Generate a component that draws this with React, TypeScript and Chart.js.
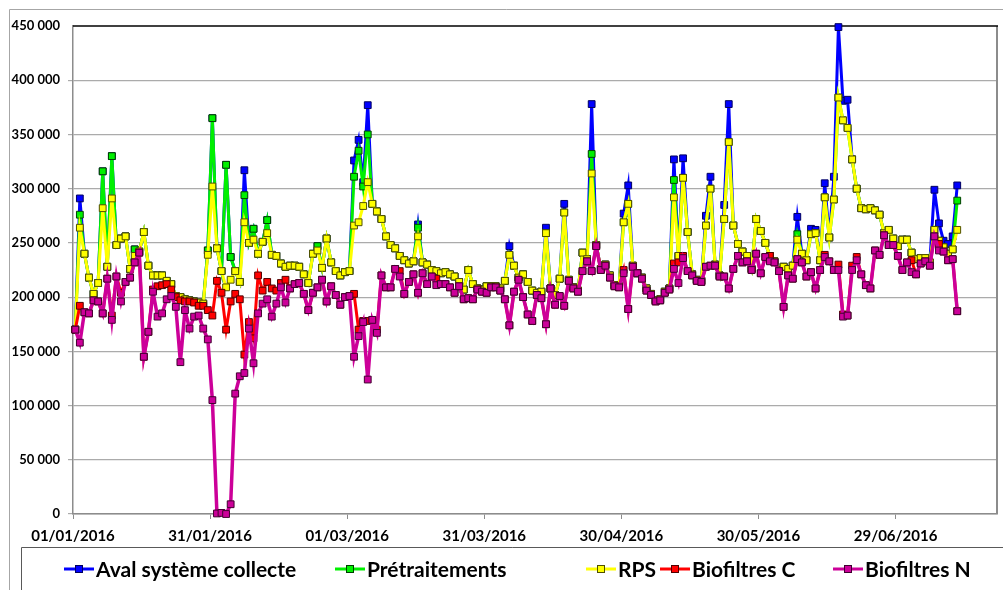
import React, { useEffect, useRef } from "react";
import { Chart, registerables } from "chart.js";

Chart.register(...registerables);

// ---- data (values in thousands of units, one value per day from 01/01/2016) ----
const START_DATE_UTC = Date.UTC(2016, 0, 1);
const UNIT = 1000;
const X_TICK_DAYS = [0, 30, 60, 90, 120, 150, 180];
const X_MAX_DAYS = 202.2;
const Y_MAX = 450000;
const Y_STEP = 50000;

const SERIES_LABELS = [
  "Aval système collecte",
  "Prétraitements",
  "RPS",
  "Biofiltres C",
  "Biofiltres N",
];

const avalSystemeCollecte = [
  170, 291, 240, 218, 203, 213, 316, 228, 330, 248,
  254, 256, 226, 244, 242, 260, 229, 220, 220, 220,
  215, 212, 201, 200, 198, 197, 196, 195, 194, 243,
  365, 245, 224, 322, 237, 224, 214, 317, 250, 263,
  240, 251, 271, 239, 238, 231, 228, 229, 229, 228,
  221, 213, 240, 247, 227, 254, 232, 224, 220, 223,
  224, 326, 345, 306, 377, 286, 279, 272, 256, 248,
  245, 238, 234, 231, 233, 267, 232, 230, 225, 224,
  222, 223, 221, 219, 214, 207, 225, 212, 208, 207,
  210, 210, 210, 208, 215, 247, 229, 218, 221, 214,
  206, 204, 205, 264, 208, 202, 217, 286, 216, 209,
  206, 241, 235, 378, 248, 226, 230, 220, 211, 210,
  277, 303, 229, 222, 218, 208, 203, 197, 198, 205,
  208, 327, 238, 328, 260, 221, 216, 215, 275, 311,
  230, 220, 285, 378, 266, 249, 242, 238, 226, 272,
  261, 250, 238, 233, 225, 228, 226, 229, 274, 240,
  234, 263, 262, 234, 305, 255, 311, 449, 381, 382,
  327, 300, 282, 281, 282, 280, 276, 259, 262, 254,
  247, 253, 253, 241, 235, 236, 236, 232, 299, 268,
  252, 249, 256, 303,
];

const pretraitements = [
  170, 276, 240, 218, 203, 213, 316, 228, 330, 248,
  254, 256, 226, 244, 242, 260, 229, 220, 220, 220,
  215, 212, 201, 200, 198, 197, 196, 195, 194, 243,
  365, 245, 224, 322, 237, 224, 214, 294, 250, 263,
  240, 251, 271, 239, 238, 231, 228, 229, 229, 228,
  221, 213, 240, 247, 227, 254, 232, 224, 220, 223,
  224, 311, 335, 302, 350, 286, 279, 272, 256, 248,
  245, 238, 234, 231, 233, 264, 232, 230, 225, 224,
  222, 223, 221, 219, 214, 207, 225, 212, 208, 207,
  210, 210, 210, 208, 215, 239, 229, 218, 221, 214,
  206, 204, 205, 259, 208, 202, 217, 278, 216, 209,
  206, 241, 235, 332, 248, 226, 230, 220, 211, 210,
  269, 286, 229, 222, 218, 208, 203, 197, 198, 205,
  208, 308, 238, 310, 260, 221, 216, 215, 266, 300,
  230, 220, 272, 343, 266, 249, 242, 238, 226, 272,
  261, 250, 238, 233, 225, 228, 226, 229, 258, 240,
  234, 258, 259, 234, 292, 255, 290, 384, 363, 356,
  327, 300, 282, 281, 282, 280, 276, 259, 262, 254,
  247, 253, 253, 241, 235, 236, 236, 232, 262, 252,
  246, 240, 244, 289,
];

const rps = [
  170, 264, 240, 218, 203, 213, 282, 228, 291, 248,
  254, 256, 226, 238, 242, 260, 229, 220, 220, 220,
  215, 212, 201, 200, 198, 197, 196, 195, 194, 239,
  302, 245, 224, 209, 216, 224, 214, 269, 250, 253,
  240, 251, 259, 239, 238, 231, 228, 229, 229, 228,
  221, 213, 240, 243, 227, 254, 232, 224, 220, 223,
  224, 266, 269, 284, 306, 286, 279, 272, 256, 248,
  245, 238, 234, 231, 233, 256, 232, 230, 225, 224,
  222, 223, 221, 219, 214, 207, 225, 212, 208, 207,
  210, 210, 210, 208, 215, 239, 229, 218, 221, 214,
  206, 204, 205, 259, 208, 202, 217, 278, 216, 209,
  206, 241, 235, 314, 248, 226, 230, 220, 211, 210,
  269, 286, 229, 222, 218, 208, 203, 197, 198, 205,
  208, 292, 238, 310, 260, 221, 216, 215, 266, 300,
  230, 220, 272, 343, 266, 249, 242, 238, 226, 272,
  261, 250, 238, 233, 225, 228, 226, 229, 253, 240,
  234, 258, 259, 234, 292, 255, 290, 384, 363, 356,
  327, 300, 282, 281, 282, 280, 276, 259, 262, 254,
  247, 253, 253, 241, 235, 236, 236, 232, 262, 252,
  246, 240, 244, 262,
];

const biofiltresC = [
  170, 192, 186, 185, 197, 196, 185, 217, 183, 219,
  204, 214, 218, 232, 241, 145, 168, 207, 210, 211,
  212, 207, 200, 197, 196, 196, 195, 192, 192, 188,
  183, 215, 204, 170, 196, 203, 198, 147, 177, 162,
  220, 206, 214, 208, 206, 213, 216, 208, 212, 213,
  203, 188, 204, 209, 216, 196, 210, 202, 193, 200,
  201, 203, 170, 178, 178, 179, 170, 220, 209, 209,
  226, 224, 203, 214, 221, 204, 222, 212, 219, 217,
  212, 212, 209, 204, 210, 198, 199, 198, 207, 205,
  204, 209, 209, 206, 198, 174, 205, 216, 200, 184,
  178, 202, 199, 175, 208, 193, 201, 192, 215, 208,
  205, 224, 233, 224, 247, 225, 229, 218, 210, 209,
  225, 189, 228, 222, 217, 206, 202, 196, 197, 204,
  207, 231, 232, 238, 224, 220, 215, 214, 228, 229,
  229, 219, 219, 208, 226, 238, 232, 233, 225, 240,
  222, 237, 238, 232, 224, 191, 220, 217, 235, 232,
  219, 223, 208, 225, 239, 233, 225, 230, 184, 183,
  229, 237, 221, 211, 208, 243, 239, 257, 248, 248,
  238, 225, 232, 234, 221, 231, 233, 229, 256, 249,
  242, 234, 235, 187,
];

const biofiltresN = [
  170, 158, 186, 185, 197, 196, 185, 217, 179, 219,
  196, 214, 218, 232, 241, 145, 168, 205, 182, 185,
  198, 201, 191, 140, 188, 171, 182, 183, 171, 161,
  105, 0.5, 1, 0, 9, 111, 127, 130, 171, 139,
  185, 194, 198, 182, 194, 209, 195, 208, 212, 213,
  203, 188, 204, 209, 216, 196, 210, 202, 193, 200,
  201, 145, 164, 177, 124, 179, 167, 220, 209, 209,
  226, 219, 203, 214, 221, 204, 222, 212, 219, 211,
  212, 212, 209, 204, 210, 198, 199, 198, 207, 205,
  204, 209, 209, 206, 198, 174, 205, 216, 200, 184,
  178, 202, 199, 175, 208, 193, 201, 192, 215, 208,
  205, 224, 233, 224, 247, 225, 229, 218, 210, 209,
  222, 189, 228, 222, 217, 206, 202, 196, 197, 204,
  207, 226, 213, 236, 224, 220, 215, 214, 228, 229,
  229, 219, 219, 208, 226, 238, 232, 233, 225, 240,
  222, 237, 233, 232, 224, 191, 220, 217, 235, 232,
  219, 223, 208, 225, 237, 233, 225, 225, 182, 183,
  225, 234, 221, 211, 208, 243, 239, 257, 248, 248,
  238, 225, 232, 223, 221, 231, 233, 229, 256, 243,
  242, 234, 235, 187,
];

const SERIES_VALUES = [avalSystemeCollecte, pretraitements, rps, biofiltresC, biofiltresN];

// ---- styles ----
const LINE_COLORS = ["#0000FF", "#00F000", "#FFFF00", "#FF0000", "#CC0099"];
const POINT_BORDERS = ["#000060", "#004000", "#505000", "#500000", "#400030"];
const LINE_WIDTHS = [3, 3, 3, 3, 3.5];
const LEGEND_X = [64, 335, 586, 660, 833];
const LEGEND_Y = 569;
const FONT = "Lato, 'Open Sans', sans-serif";

function fmtDate(day: number): string {
  const d = new Date(START_DATE_UTC + Math.round(day) * 86400000);
  const dd = String(d.getUTCDate()).padStart(2, "0");
  const mm = String(d.getUTCMonth() + 1).padStart(2, "0");
  return `${dd}/${mm}/${d.getUTCFullYear()}`;
}

function fmtNum(v: number): string {
  return String(Math.round(v)).replace(/\B(?=(\d{3})+(?!\d))/g, " ");
}

const framePlugin = {
  id: "frameAndLegend",
  beforeDraw(chart: any) {
    const { ctx, width, height } = chart;
    ctx.save();
    ctx.fillStyle = "#FFFFFF";
    ctx.fillRect(0, 0, width, height);
    // outer chart frame
    ctx.strokeStyle = "#A6A6A6";
    ctx.lineWidth = 1;
    ctx.beginPath();
    ctx.moveTo(9.5, height + 5);
    ctx.lineTo(9.5, 9.5);
    ctx.lineTo(width + 5, 9.5);
    ctx.stroke();
    // legend frame
    ctx.strokeStyle = "#595959";
    ctx.beginPath();
    ctx.moveTo(21.5, height + 5);
    ctx.lineTo(21.5, 547.5);
    ctx.lineTo(width + 5, 547.5);
    ctx.stroke();
    ctx.restore();
  },
  beforeDatasetsDraw(chart: any) {
    const { ctx, chartArea } = chart;
    ctx.save();
    ctx.strokeStyle = "#8C8C8C";
    ctx.lineWidth = 2;
    ctx.beginPath();
    ctx.moveTo(chartArea.right, chartArea.top);
    ctx.lineTo(chartArea.right, chartArea.bottom);
    ctx.stroke();
    ctx.strokeStyle = "#000000";
    ctx.lineWidth = 1.5;
    ctx.beginPath();
    ctx.moveTo(chartArea.left, chartArea.top);
    ctx.lineTo(chartArea.right + 1, chartArea.top);
    ctx.stroke();
    ctx.restore();
  },
  afterDraw(chart: any) {
    const { ctx } = chart;
    ctx.save();
    chart.data.datasets.forEach((ds: any, i: number) => {
      const x0 = LEGEND_X[i];
      ctx.strokeStyle = ds.borderColor;
      ctx.lineWidth = 3;
      ctx.beginPath();
      ctx.moveTo(x0, LEGEND_Y);
      ctx.lineTo(x0 + 30, LEGEND_Y);
      ctx.stroke();
      ctx.fillStyle = ds.pointBackgroundColor;
      ctx.strokeStyle = ds.pointBorderColor;
      ctx.lineWidth = 1;
      ctx.fillRect(x0 + 11.5, LEGEND_Y - 3.5, 7, 7);
      ctx.strokeRect(x0 + 11.5, LEGEND_Y - 3.5, 7, 7);
      ctx.fillStyle = "#000000";
      ctx.font = `bold 21px ${FONT}`;
      ctx.textBaseline = "middle";
      ctx.textAlign = "left";
      ctx.fillText(ds.label, x0 + 32, LEGEND_Y + 1);
    });
    ctx.restore();
  },
};

export default function App() {
  const canvasRef = useRef<HTMLCanvasElement | null>(null);

  useEffect(() => {
    if (!canvasRef.current) return;
    const datasets = SERIES_VALUES.map((values, i) => ({
      label: SERIES_LABELS[i],
      data: values.map((v, d) => ({ x: d + 0.5, y: v * UNIT })),
      borderColor: LINE_COLORS[i],
      backgroundColor: LINE_COLORS[i],
      pointBackgroundColor: LINE_COLORS[i],
      pointBorderColor: POINT_BORDERS[i],
      pointBorderWidth: 1,
      pointStyle: "rect",
      pointRadius: 4.8,
      borderWidth: LINE_WIDTHS[i],
      tension: 0,
      clip: false,
      order: SERIES_VALUES.length - i,
    }));

    const chart = new Chart(canvasRef.current, {
      type: "line",
      data: { datasets },
      options: {
        animation: false,
        responsive: false,
        maintainAspectRatio: false,
        layout: { padding: { top: 26, right: 6, left: 0, bottom: 0 } },
        plugins: {
          legend: { display: false },
          tooltip: { enabled: false },
          title: { display: false },
        },
        scales: {
          x: {
            type: "linear",
            min: 0,
            max: X_MAX_DAYS,
            afterBuildTicks: (scale: any) => {
              scale.ticks = X_TICK_DAYS.map((v) => ({ value: v }));
            },
            afterFit: (scale: any) => {
              scale.height = 76;
            },
            ticks: {
              callback: (v: any) => fmtDate(Number(v)),
              color: "#000000",
              font: { family: FONT, weight: "bold", size: 15 },
              padding: 8,
              maxRotation: 0,
              autoSkip: false,
            },
            grid: {
              drawOnChartArea: false,
              drawTicks: true,
              tickLength: 5,
              color: "#8C8C8C",
            },
            border: { display: true, color: "#8C8C8C", width: 1.5 },
          },
          y: {
            min: 0,
            max: Y_MAX,
            afterFit: (scale: any) => {
              scale.width = 73;
            },
            ticks: {
              stepSize: Y_STEP,
              callback: (v: any) => fmtNum(Number(v)),
              color: "#000000",
              font: { family: FONT, weight: "bold", size: 13 },
              padding: 8,
            },
            grid: {
              color: (c: any) => (c.tick && c.tick.value === Y_MAX ? "rgba(0,0,0,0)" : "#ABABAB"),
              lineWidth: 1.2,
              drawTicks: true,
              tickLength: 5,
            },
            border: { display: true, color: "#8C8C8C", width: 1.5 },
          },
        },
      },
      plugins: [framePlugin],
    } as any);

    return () => chart.destroy();
  }, []);

  return (
    <div
      style={{
        position: "fixed",
        left: 0,
        top: 0,
        width: 1003,
        height: 590,
        background: "#FFFFFF",
        overflow: "hidden",
      }}
    >
      <canvas ref={canvasRef} width={1003} height={590} style={{ width: 1003, height: 590, display: "block" }} />
    </div>
  );
}
